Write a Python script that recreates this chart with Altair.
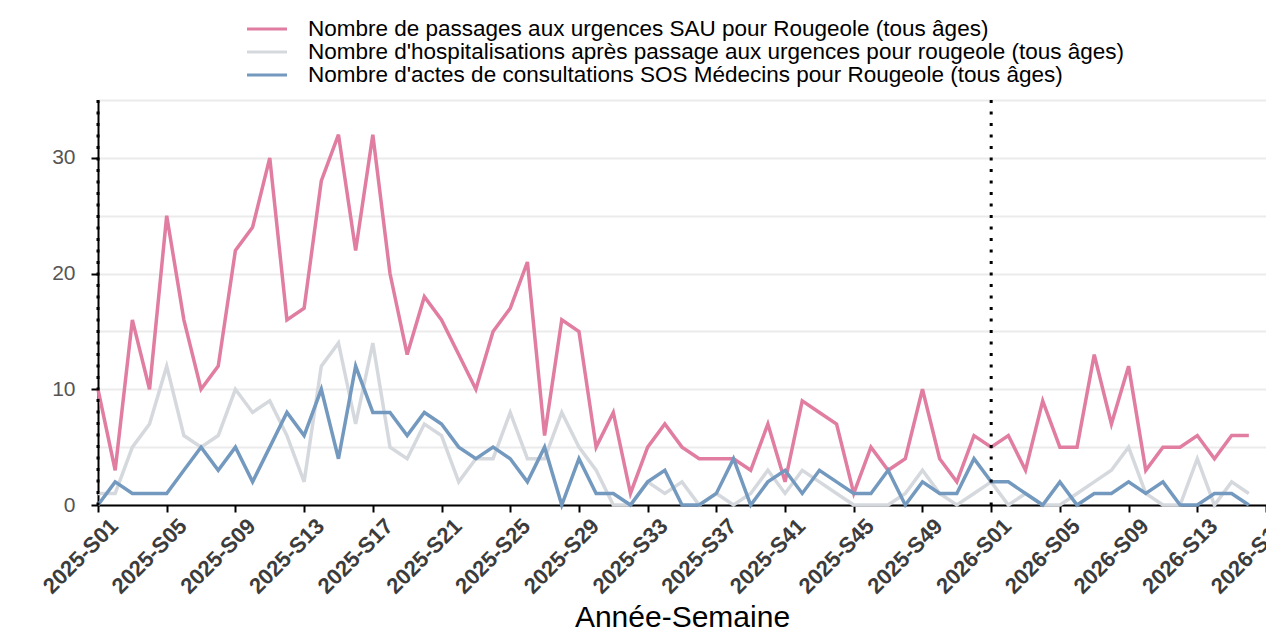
import altair as alt
import pandas as pd

# ---- categories ----
weeks = [f"2025-S{i:02d}" for i in range(1, 53)] + [f"2026-S{i:02d}" for i in range(1, 18)]
tick_weeks = weeks[::4]
year_starts = ["2025-S01", "2026-S01"]

series_names = [
    "Nombre de passages aux urgences SAU pour Rougeole (tous âges)",
    "Nombre d'hospitalisations après passage aux urgences pour rougeole (tous âges)",
    "Nombre d'actes de consultations SOS Médecins pour Rougeole (tous âges)",
]
series_colors = ["#e07da1", "#d5d9de", "#7499bf"]

# ---- values (2025-S01 .. 2026-S16) ----
sau = [10, 3, 16, 10, 25, 16, 10, 12, 22, 24, 30, 16, 17, 28, 32, 22, 32, 20, 13, 18,
       16, 13, 10, 15, 17, 21, 6, 16, 15, 5, 8, 1, 5, 7, 5, 4, 4, 4, 3, 7,
       2, 9, 8, 7, 1, 5, 3, 4, 10, 4, 2, 6,
       5, 6, 3, 9, 5, 5, 13, 7, 12, 3, 5, 5, 6, 4, 6, 6]
hosp = [1, 1, 5, 7, 12, 6, 5, 6, 10, 8, 9, 6, 2, 12, 14, 7, 14, 5, 4, 7,
        6, 2, 4, 4, 8, 4, 4, 8, 5, 3, 0, 0, 2, 1, 2, 0, 1, 0, 1, 3,
        1, 3, 2, 1, 0, 0, 0, 1, 3, 1, 0, 1,
        2, 0, 1, 0, 0, 1, 2, 3, 5, 1, 0, 0, 4, 0, 2, 1]
sos = [0, 2, 1, 1, 1, 3, 5, 3, 5, 2, 5, 8, 6, 10, 4, 12, 8, 8, 6, 8,
       7, 5, 4, 5, 4, 2, 5, 0, 4, 1, 1, 0, 2, 3, 0, 0, 1, 4, 0, 2,
       3, 1, 3, 2, 1, 1, 3, 0, 2, 1, 1, 4,
       2, 2, 1, 0, 2, 0, 1, 1, 2, 1, 2, 0, 0, 1, 1, 0]

rows = []
for k, (name, vals) in enumerate(zip(series_names, [sau, hosp, sos])):
    for w, v in zip(weeks, vals):
        rows.append({"semaine": w, "valeur": v, "serie": name, "ordre": k})
df = pd.DataFrame(rows)
df_rules = pd.DataFrame({"semaine": year_starts})

FONT = "Liberation Sans"
x_scale = alt.Scale(type="point", domain=weeks, padding=0)

lines = alt.Chart(df).mark_line(strokeWidth=3.5).encode(
    x=alt.X(
        "semaine:O",
        scale=x_scale,
        sort=weeks,
        axis=alt.Axis(
            values=tick_weeks,
            title="Année-Semaine",
            grid=False,
            labelAngle=-45,
            labelAlign="right",
            labelBaseline="top",
            labelFont=FONT,
            labelFontWeight="bold",
            labelFontSize=22,
            labelColor="#3c3c3c",
            labelPadding=3,
            labelOffset=9,
            labelOverlap=False,
            titleFont=FONT,
            titleFontSize=30,
            titleFontWeight="normal",
            titleColor="#000000",
            titleBaseline="alphabetic",
            titleY=121,
        ),
    ),
    y=alt.Y(
        "valeur:Q",
        scale=alt.Scale(domain=[0, 35], nice=False, zero=True),
        axis=alt.Axis(
            values=list(range(0, 40, 5)),
            title=None,
            labelExpr="datum.value % 10 === 0 ? datum.label : ''",
            labelFont=FONT,
            labelFontSize=21,
            labelColor="#555555",
            labelPadding=16,
            tickColor={"condition": {"test": "datum.value % 10 === 0", "value": "black"}, "value": "transparent"},
            grid=True,
            gridColor="#ebebeb",
            gridWidth=2,
        ),
    ),
    color=alt.Color(
        "serie:N",
        scale=alt.Scale(domain=series_names, range=series_colors),
        legend=alt.Legend(
            title=None,
            orient="none",
            legendX=157.5,
            legendY=-82.5,
            direction="vertical",
            symbolType="M-2,0H2",
            symbolSize=400,
            symbolStrokeWidth=3,
            labelFont=FONT,
            labelFontSize=22.5,
            labelColor="#000000",
            labelOffset=29.5,
            labelLimit=1000,
            rowPadding=0,
            padding=0,
        ),
    ),
    order=alt.Order("ordre:Q"),
    detail="serie:N",
)

rules = alt.Chart(df_rules).mark_rule(
    color="black", strokeWidth=3, strokeDash=[3, 8.5]
).encode(x=alt.X("semaine:O", scale=x_scale, sort=weeks))

chart = alt.layer(lines, rules).properties(
    width=1168,
    height=405,
    autosize=alt.AutoSizeParams(type="none"),
    padding={"left": 90, "top": 92, "right": 0, "bottom": 129},
).configure_view(stroke=None).configure_axis(
    domainColor="black",
    domainWidth=2,
    tickColor="black",
    tickWidth=2,
    tickSize=7,
)

chart.save("out.html", embed_options={"renderer": "svg", "actions": False})
